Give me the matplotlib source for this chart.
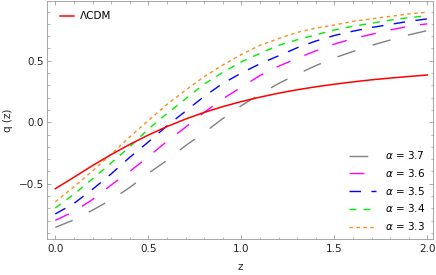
import matplotlib
matplotlib.use('Agg')
import matplotlib.pyplot as plt
from matplotlib.ticker import MultipleLocator

plt.rcParams['font.family'] = ['DejaVu Sans']
plt.rcParams['mathtext.fontset'] = 'dejavusans'

# values at z = 0, 0.1, ..., 2.0
z = [0.0, 0.1, 0.2, 0.3, 0.4, 0.5, 0.6, 0.7, 0.8, 0.9, 1.0,
     1.1, 1.2, 1.3, 1.4, 1.5, 1.6, 1.7, 1.8, 1.9, 2.0]

q_lcdm = [-0.54, -0.447, -0.352, -0.263, -0.18, -0.104, -0.035, 0.026, 0.08, 0.127, 0.168,
          0.204, 0.236, 0.264, 0.288, 0.309, 0.328, 0.345, 0.359, 0.372, 0.384]
q_37 = [-0.854, -0.793, -0.714, -0.63, -0.53, -0.415, -0.31, -0.19, -0.085, 0.03, 0.135,
        0.228, 0.315, 0.39, 0.46, 0.523, 0.575, 0.625, 0.668, 0.71, 0.745]
q_36 = [-0.797, -0.725, -0.628, -0.51, -0.40, -0.28, -0.155, -0.04, 0.08, 0.19, 0.285,
        0.38, 0.455, 0.52, 0.58, 0.635, 0.68, 0.715, 0.75, 0.78, 0.80]
q_35 = [-0.745, -0.66, -0.545, -0.42, -0.285, -0.16, -0.03, 0.09, 0.21, 0.315, 0.40,
        0.475, 0.54, 0.605, 0.66, 0.705, 0.74, 0.77, 0.795, 0.82, 0.84]
q_34 = [-0.697, -0.585, -0.46, -0.33, -0.20, -0.055, 0.07, 0.19, 0.31, 0.405, 0.49,
        0.56, 0.625, 0.67, 0.71, 0.75, 0.78, 0.805, 0.83, 0.85, 0.865]
q_33 = [-0.646, -0.525, -0.395, -0.26, -0.12, 0.015, 0.145, 0.26, 0.37, 0.465, 0.55,
        0.625, 0.68, 0.73, 0.765, 0.79, 0.82, 0.84, 0.86, 0.88, 0.895]

fig = plt.figure(figsize=(4.36, 2.75), dpi=100)
ax = fig.add_axes([0.1085, 0.1298, 0.8853, 0.8682])

la, = ax.plot(z, q_37, color='#808080', lw=1.0, dashes=(13.5, 13))
lb, = ax.plot(z, q_36, color='#ff00ff', lw=1.0, dashes=(10.8, 10.8))
lc, = ax.plot(z, q_35, color='#0000ff', lw=1.0, dashes=(8.3, 7.5))
ld, = ax.plot(z, q_34, color='#00ee00', lw=1.0, dashes=(5, 5))
le, = ax.plot(z, q_33, color='#ff8c1a', lw=1.0, dashes=(2.5, 2.5))
lr, = ax.plot(z, q_lcdm, color='#ff0000', lw=1.1)

ax.set_xlim(-0.043, 2.032)
ax.set_ylim(-0.951, 0.989)
ax.xaxis.set_major_locator(MultipleLocator(0.5))
ax.xaxis.set_minor_locator(MultipleLocator(0.1))
ax.yaxis.set_major_locator(MultipleLocator(0.5))
ax.yaxis.set_minor_locator(MultipleLocator(0.1))
ax.tick_params(which='both', direction='in', top=True, right=True,
               color='#999999', labelsize=7.5, labelcolor='#222222')
ax.tick_params(which='major', length=3.2, width=0.6)
ax.tick_params(which='minor', length=1.8, width=0.5)
ax.tick_params(axis='x', pad=3.5)
ax.tick_params(axis='y', pad=2.5)
ax.set_yticks([-0.5, 0.0, 0.5])
ax.set_yticklabels(['\u22120.5', '0.0', '0.5'])
for s in ax.spines.values():
    s.set_color('#999999')
    s.set_linewidth(0.6)

ax.set_xlabel('z', fontsize=7.5, color='#222222', labelpad=6)
ax.set_ylabel('q (z)', fontsize=7.5, color='#222222', labelpad=4)

leg1 = ax.legend([lr], ['\u039bCDM'], loc='upper left', bbox_to_anchor=(0.033, 0.955),
                 frameon=False, fontsize=7.5, handlelength=1.35, handletextpad=0.55,
                 borderpad=0, borderaxespad=0)
ax.add_artist(leg1)
ax.legend([la, lb, lc, ld, le],
          [r'$\alpha$ = 3.7', r'$\alpha$ = 3.6', r'$\alpha$ = 3.5', r'$\alpha$ = 3.4', r'$\alpha$ = 3.3'],
          loc='upper left', bbox_to_anchor=(0.782, 0.377), frameon=False, fontsize=7.5,
          handlelength=2.6, handletextpad=0.85, labelspacing=0.55,
          borderpad=0, borderaxespad=0)

fig.savefig('out.png', dpi=100)
